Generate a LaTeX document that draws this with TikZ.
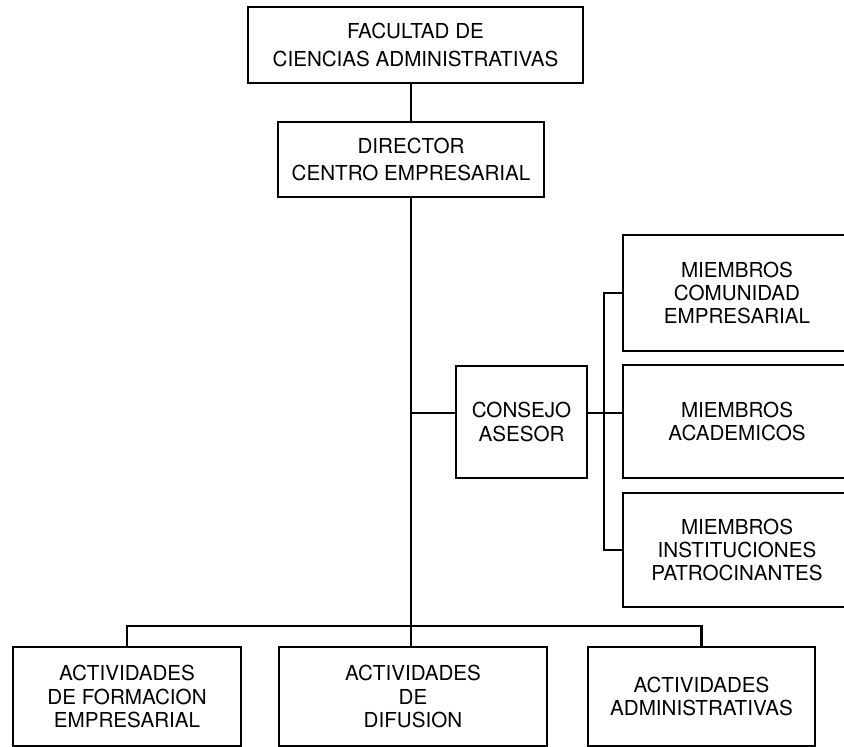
\documentclass[tikz,border=0pt]{standalone}
\usepackage{fontspec}
\setmainfont{TeX Gyre Heros}
\begin{document}
\begin{tikzpicture}[
  box/.style={draw, line width=1.7pt, align=center, inner sep=0pt,
              font=\fontsize{17.6}{20}\selectfont},
  conn/.style={line width=1.8pt},
]
\useasboundingbox (0,0) rectangle (25.32,-22.41);
\fill[white] (0,0) rectangle (25.32,-22.41);
\clip (0,0) rectangle (25.32,-22.41);

\node[box, minimum width=10.05cm, minimum height=2.28cm,
      font=\fontsize{17.6}{23.8}\selectfont] (fac) at (12.465,-1.35)
      {FACULTAD DE\\CIENCIAS ADMINISTRATIVAS};
\node[box, minimum width=7.98cm, minimum height=2.25cm,
      font=\fontsize{17.6}{22.7}\selectfont] (dir) at (12.33,-4.785)
      {DIRECTOR\\CENTRO EMPRESARIAL};
\node[box, minimum width=3.93cm, minimum height=3.36cm] (cons) at (15.645,-12.66)
      {CONSEJO\\ASESOR};

\node[box, minimum width=6.84cm, minimum height=3.48cm] (m1) at (22.11,-8.79)
      {MIEMBROS\\COMUNIDAD\\EMPRESARIAL};
\node[box, minimum width=6.84cm, minimum height=3.39cm] (m2) at (22.11,-12.645)
      {MIEMBROS\\ACADEMICOS};
\node[box, minimum width=6.84cm, minimum height=3.42cm] (m3) at (22.11,-16.5)
      {MIEMBROS\\INSTITUCIONES\\PATROCINANTES};

\node[box, minimum width=6.84cm, minimum height=2.97cm] (b1) at (3.81,-20.895)
      {ACTIVIDADES\\DE FORMACION\\EMPRESARIAL};
\node[box, minimum width=8.04cm, minimum height=2.97cm] (b2) at (12.39,-20.895)
      {ACTIVIDADES\\DE\\DIFUSION};
\node[box, minimum width=6.81cm, minimum height=2.97cm] (b3) at (21.045,-20.895)
      {ACTIVIDADES\\ADMINISTRATIVAS};

\coordinate (j) at (0,-12.39);

\draw[conn] (dir.north) -- (dir.north |- fac.south);
\draw[conn] (dir.south) -- (dir.south |- b2.north);
\draw[conn] (b1.north) -- ++(0,0.6) -| (b3.north);
\draw[conn] (dir.south |- j) -- (cons.west |- j);
\draw[conn] (cons.east |- j) -- (m2.west |- j);
\draw[conn] (m1.west) -- ++(-0.54,0) |- (m3.west);
\end{tikzpicture}
\end{document}
